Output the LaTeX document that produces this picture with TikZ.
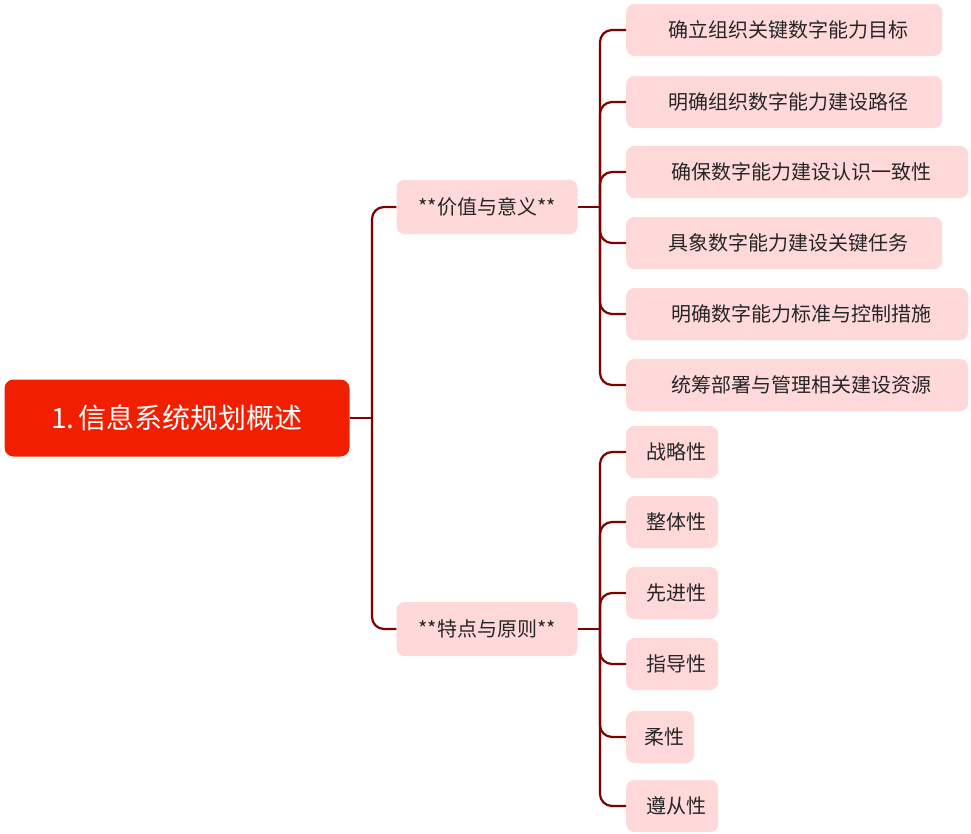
\documentclass[tikz,border=0pt]{standalone}
\usepackage{fontspec}
\setmainfont{Noto Sans CJK SC}
\begin{document}
\begin{tikzpicture}[x=1pt,y=-1pt,
leaf/.style={fill=red!15!white,rounded corners=8pt,inner sep=0pt,minimum height=52pt,anchor=west,font=\fontsize{20}{24}\selectfont,text=black!85,align=left},
br/.style={fill=red!15!white,rounded corners=8pt,minimum height=54pt,minimum width=181pt,font=\fontsize{20}{24}\selectfont,text=black!85},
con/.style={draw=red!50!black,line width=2.2pt,rounded corners=12pt}]
\useasboundingbox (0,0) rectangle (971,833);
\node[fill=red!75!orange!95!black,rounded corners=9pt,minimum width=345pt,minimum height=77pt,text=white,font=\fontsize{28}{32}\selectfont] (root) at (177,418) {1.\,信息系统规划概述};
\node[br] (b1) at (487,207) {**价值与意义**};
\node[br] (b2) at (487,629) {**特点与原则**};
\foreach \n/\y/\t/\w in {a1/30/确立组织关键数字能力目标/316, a2/102/明确组织数字能力建设路径/316, a3/172/确保数字能力建设认识一致性/342, a4/243/具象数字能力建设关键任务/316, a5/314/明确数字能力标准与控制措施/342, a6/385/统筹部署与管理相关建设资源/342}
  {\node[leaf,minimum width=\w pt] (\n) at (626,\y) {\hspace*{9pt}\t};}
\foreach \n/\y/\t/\w in {c1/452/战略性/92, c2/522/整体性/92, c3/593/先进性/92, c4/664/指导性/92, c5/737/柔性/68, c6/806/遵从性/92}
  {\node[leaf,minimum width=\w pt] (\n) at (626,\y) {\hspace*{9pt}\t};}
\coordinate (r1) at (372,418);
\draw[con] (root.east) -- (r1);
\draw[con] (r1) |- (b1.west);
\draw[con] (r1) |- (b2.west);
\coordinate (s1) at (600,207);
\coordinate (s2) at (600,629);
\draw[con] (b1.east) -- (s1);
\draw[con] (b2.east) -- (s2);
\foreach \n in {a1,a2,a3,a4,a5,a6} {\draw[con] (s1) |- (\n.west);}
\foreach \n in {c1,c2,c3,c4,c5,c6} {\draw[con] (s2) |- (\n.west);}
\end{tikzpicture}
\end{document}
